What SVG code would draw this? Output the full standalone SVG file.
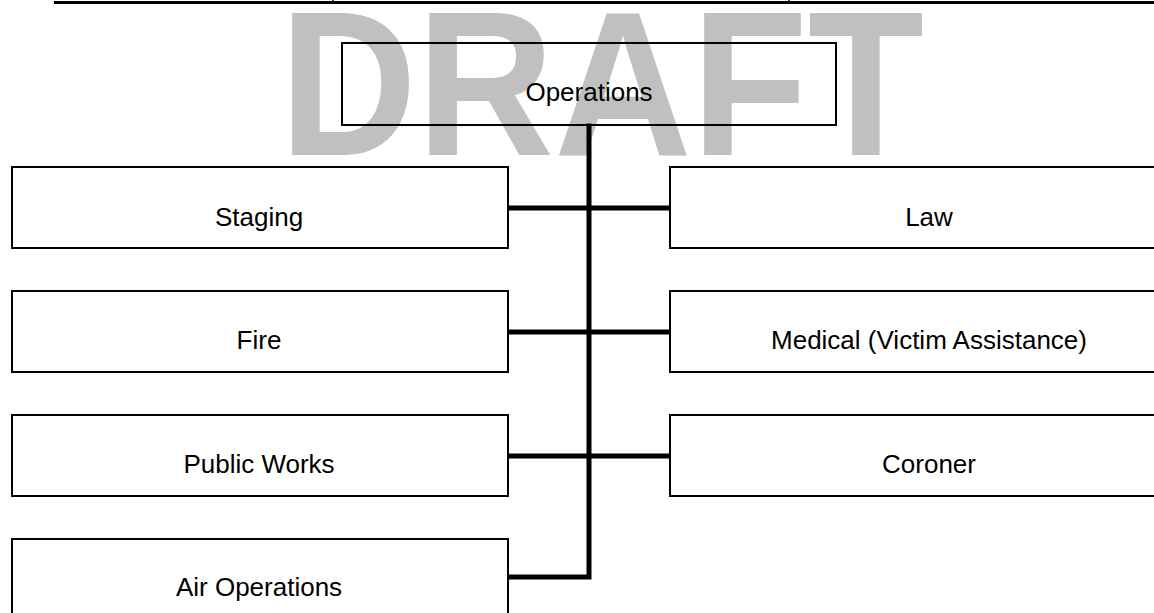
<svg xmlns="http://www.w3.org/2000/svg" width="1154" height="613" viewBox="0 0 1154 613">
<style>
.box{fill:none;stroke:#000;stroke-width:2}
.lbl{font-family:"Liberation Sans",Arial,sans-serif;font-size:26px;fill:#000;text-anchor:middle;dominant-baseline:central}
.conn{stroke:#000;stroke-width:5;fill:none;stroke-linecap:square}
.wm{font-family:"Liberation Sans",Arial,sans-serif;font-weight:bold;font-size:207px;fill:#c0c0c0}
</style>
<rect width="1154" height="613" fill="#fff"/>
<g id="header">
<line x1="54" y1="2.5" x2="1154" y2="2.5" stroke="#000" stroke-width="3"/>
<line x1="333" y1="0" x2="333" y2="3" stroke="#000" stroke-width="1.5"/>
<line x1="789" y1="0" x2="789" y2="3" stroke="#000" stroke-width="1.5"/>
</g>
<text class="wm" transform="translate(279.5,155) scale(0.919,1)" x="0" y="0">DRAFT</text>
<g id="connectors">
<path class="conn" d="M589,126 V577 H510"/>
<path class="conn" d="M510,208 H668"/>
<path class="conn" d="M510,332 H668"/>
<path class="conn" d="M510,456 H668"/>
</g>
<g id="operations"><rect class="box" x="342" y="43" width="494" height="82"/><text class="lbl" x="589" y="92">Operations</text></g>
<g id="staging"><rect class="box" x="12" y="167" width="496" height="81"/><text class="lbl" x="259" y="217">Staging</text></g>
<g id="fire"><rect class="box" x="12" y="291" width="496" height="81"/><text class="lbl" x="259" y="340">Fire</text></g>
<g id="public-works"><rect class="box" x="12" y="415" width="496" height="81"/><text class="lbl" x="259" y="464">Public Works</text></g>
<g id="air-operations"><rect class="box" x="12" y="539" width="496" height="82"/><text class="lbl" x="259" y="587">Air Operations</text></g>
<g id="law"><rect class="box" x="670" y="167" width="520" height="81"/><text class="lbl" x="929" y="217">Law</text></g>
<g id="medical"><rect class="box" x="670" y="291" width="520" height="81"/><text class="lbl" x="929" y="340">Medical (Victim Assistance)</text></g>
<g id="coroner"><rect class="box" x="670" y="415" width="520" height="81"/><text class="lbl" x="929" y="464">Coroner</text></g>
</svg>
